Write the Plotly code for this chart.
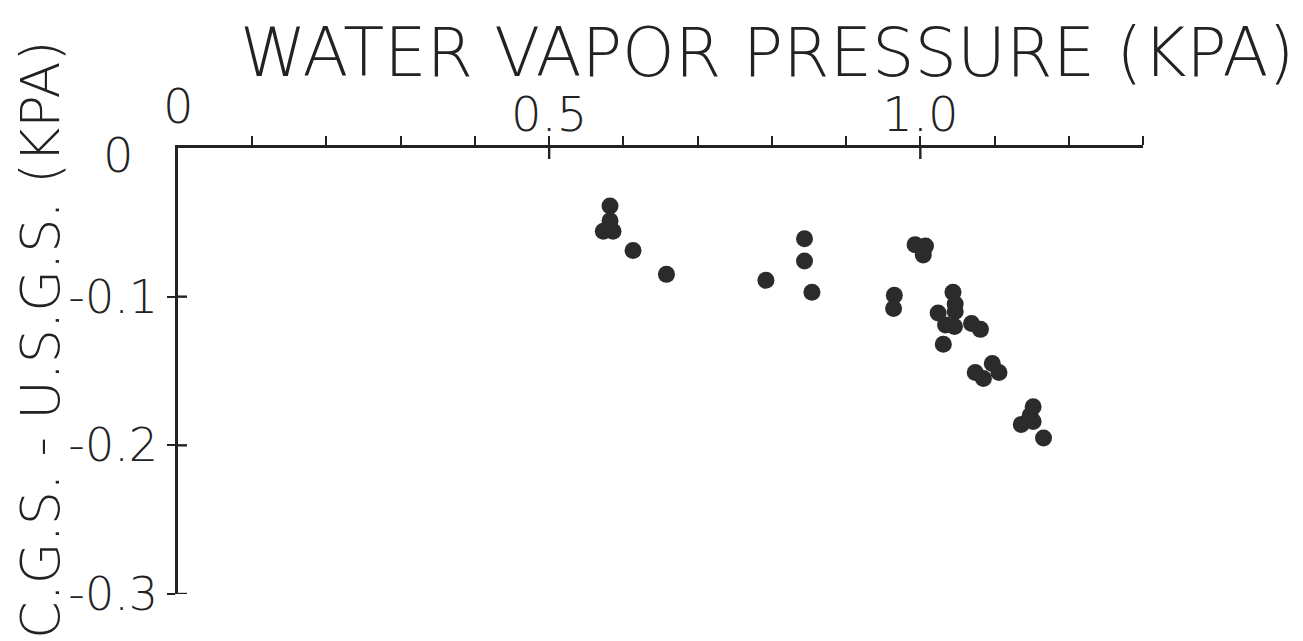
import plotly.graph_objects as go

# Data
vapor_pressure = [0.582, 0.582, 0.573, 0.586, 0.613, 0.658, 0.792, 0.844, 0.844, 0.854,
                  0.993, 1.007, 1.004, 0.965, 0.964, 1.044, 1.047, 1.047, 1.024, 1.034,
                  1.046, 1.069, 1.081, 1.031, 1.097, 1.074, 1.085, 1.106, 1.152, 1.148,
                  1.136, 1.152, 1.166]
difference = [-0.039, -0.049, -0.056, -0.056, -0.069, -0.085, -0.089, -0.061, -0.076, -0.097,
              -0.065, -0.066, -0.072, -0.099, -0.108, -0.097, -0.105, -0.110, -0.111, -0.119,
              -0.120, -0.118, -0.122, -0.132, -0.145, -0.151, -0.155, -0.151, -0.174, -0.180,
              -0.186, -0.184, -0.195]

x_ticks = [0.1, 0.2, 0.3, 0.4, 0.5, 0.6, 0.7, 0.8, 0.9, 1.0, 1.1, 1.2, 1.3]
x_ticktext = ["", "", "", "", "0.5", "", "", "", "", "1.0", "", "", ""]
x_major = [0.5, 1.0]
y_ticks = [-0.1, -0.2, -0.3]
y_ticktext = ["-0.1", "-0.2", "-0.3"]

INK = "#222222"
FONT = "DejaVu Sans"
W = 200

fig = go.Figure()
fig.add_trace(go.Scatter(
    x=vapor_pressure, y=difference, mode="markers",
    marker=dict(size=17, color="#2b2b2b", line=dict(width=0)),
    showlegend=False, cliponaxis=False, hoverinfo="x+y"))

fig.update_layout(
    width=1303, height=641,
    margin=dict(l=178, r=160, t=148, b=47),
    paper_bgcolor="white", plot_bgcolor="white",
    font=dict(family=FONT, color=INK, weight=W),
    xaxis=dict(
        side="top", range=[0, 1.3], showgrid=False, zeroline=False,
        showline=True, linecolor=INK, linewidth=2.5,
        tickmode="array", tickvals=x_ticks, ticktext=x_ticktext,
        ticks="outside", ticklen=9, tickwidth=2.2, tickcolor=INK,
        tickfont=dict(size=48, family=FONT, color=INK, weight=W),
        ticklabelstandoff=-14),
    yaxis=dict(
        range=[-0.3, 0], showgrid=False, zeroline=False,
        showline=True, linecolor=INK, linewidth=2.5,
        tickmode="array", tickvals=y_ticks, ticktext=y_ticktext,
        ticks="outside", ticklen=8, tickwidth=2.2, tickcolor=INK,
        tickfont=dict(size=46, family=FONT, color=INK, weight=W),
        ticklabelstandoff=0),
)

# inner half of the crossing major tick marks, anchored to the axis values, sized in pixels
for v in x_major:
    fig.add_shape(type="line", xref="x", yref="y", x0=v, x1=v,
                  ysizemode="pixel", yanchor=0, y0=-11, y1=0,
                  line=dict(color=INK, width=2.4), layer="above")
for v in y_ticks:
    fig.add_shape(type="line", xref="x", yref="y", y0=v, y1=v,
                  xsizemode="pixel", xanchor=0, x0=0, x1=9,
                  line=dict(color=INK, width=2.4), layer="above")

fig.add_annotation(text="WATER VAPOR PRESSURE (KPA)", xref="paper", yref="paper",
                   x=0.61, y=1.213, showarrow=False, xanchor="center", yanchor="middle",
                   font=dict(size=67, family=FONT, color=INK, weight=W))
fig.add_annotation(text="C.G.S. - U.S.G.S. (KPA)", xref="paper", yref="paper",
                   x=-0.143, y=0.5695, showarrow=False, textangle=-90,
                   xanchor="center", yanchor="middle",
                   font=dict(size=54, family=FONT, color=INK, weight=W))
fig.add_annotation(text="0", xref="x", yref="paper", x=0.0, y=1.095, showarrow=False,
                   xanchor="center", yanchor="middle",
                   font=dict(size=48, family=FONT, color=INK, weight=W))
fig.add_annotation(text="0", xref="paper", yref="y", x=-0.062, y=-0.005, showarrow=False,
                   xanchor="center", yanchor="middle",
                   font=dict(size=48, family=FONT, color=INK, weight=W))

fig.write_html("out.html")
